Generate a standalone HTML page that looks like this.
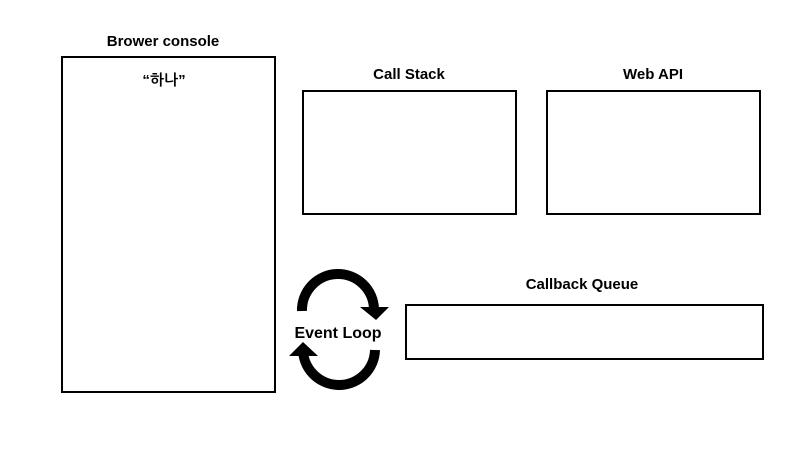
<!DOCTYPE html>
<html><head><meta charset="utf-8"><style>
html,body{margin:0;padding:0;background:#fff;width:800px;height:450px;overflow:hidden}
text{font-family:"Liberation Sans","NanumGothic","Noto Sans CJK KR",sans-serif;font-weight:bold;font-size:15px;fill:#000}
</style></head><body>
<svg width="800" height="450" viewBox="0 0 800 450">
<g fill="none" stroke="#000" stroke-width="2">
<rect x="62" y="57" width="213" height="335"/>
<rect x="303" y="91" width="213" height="123"/>
<rect x="547" y="91" width="213" height="123"/>
<rect x="406" y="305" width="357" height="54"/>
</g>
<text x="163" y="46" text-anchor="middle">Brower console</text>
<text x="164" y="85" text-anchor="middle">“하나”</text>
<text x="409" y="79" text-anchor="middle">Call Stack</text>
<text x="653" y="79" text-anchor="middle">Web API</text>
<text x="582" y="289" text-anchor="middle">Callback Queue</text>
<text x="338" y="338" text-anchor="middle" style="font-size:16px">Event Loop</text>
<g fill="none" stroke="#000" stroke-width="10">
<path d="M302 311 A36 36 0 0 1 374 309"/>
<path d="M303 348 A36 36 0 0 0 375 350"/>
</g>
<polygon points="360,307 389,307 376,320" fill="#000"/>
<polygon points="289,356 318,356 303,342" fill="#000"/>
</svg>
</body></html>
